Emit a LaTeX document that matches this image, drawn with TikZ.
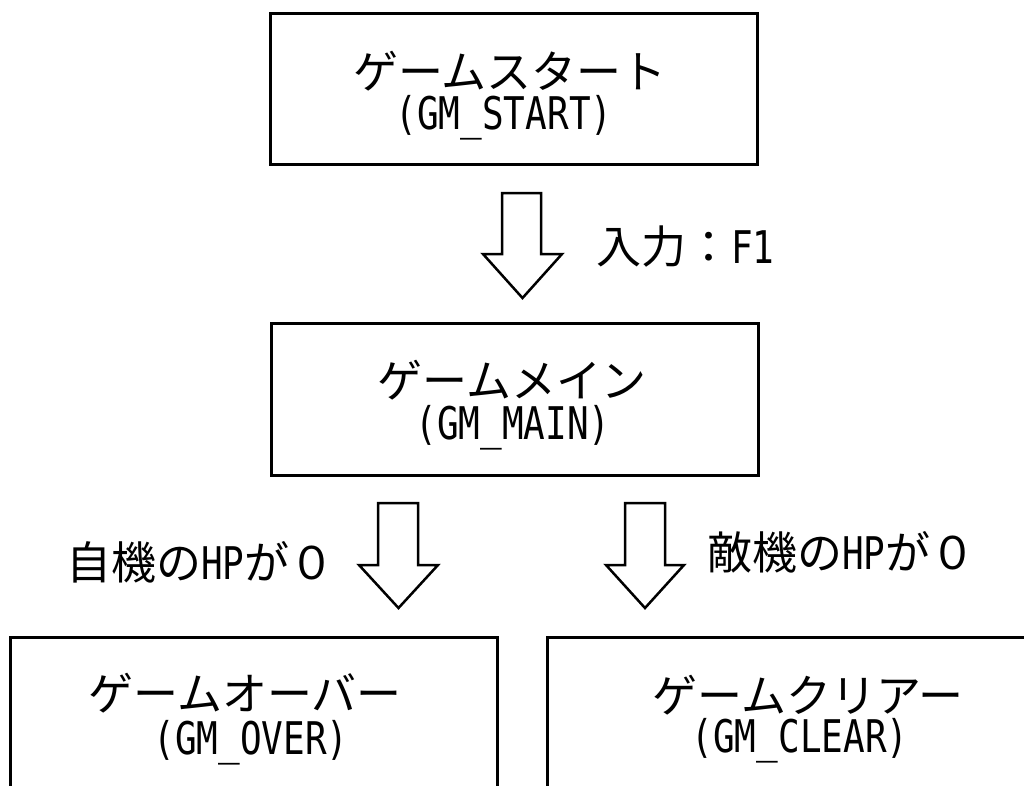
\documentclass[tikz,border=0pt]{standalone}
\usepackage{fontspec}
\newfontfamily\jp{Noto Sans CJK JP}
\newfontfamily\hw[FakeStretch=0.8]{DejaVu Sans Mono}
\newcommand{\us}{\char"5F\relax}
\begin{document}
\begin{tikzpicture}[x=1pt,y=-1pt,
  statebox/.style={draw, line width=3pt, inner sep=0pt},
  blockarrow/.style={draw, line width=2.5pt, fill=white, line join=miter},
  jptext/.style={font=\jp\fontsize{45}{54}\selectfont, inner sep=0pt},
  hwtext/.style={font=\hw\fontsize{45}{54}\selectfont, inner sep=0pt}]
\useasboundingbox (0,0) rectangle (1024,785);
\clip (0,0) rectangle (1024,785);
% boxes
\node[statebox, minimum width=487pt, minimum height=151pt] (start) at (513.5,88.5) {};
\node[statebox, minimum width=487pt, minimum height=152pt] (main) at (514.5,399) {};
\node[statebox, minimum width=487pt, minimum height=151pt] (over) at (253.5,712.5) {};
\node[statebox, minimum width=523pt, minimum height=151pt] (clear) at (808.5,712.5) {};
% box texts
\node[jptext] (startj) at (510,71) {ゲームスタート};
\node[hwtext] (starte) at (504,118) {(GM\us START)};
\node[jptext] (mainj) at (512,380) {ゲームメイン};
\node[hwtext] (maine) at (513,428) {(GM\us MAIN)};
\node[jptext] (overj) at (245,693) {ゲームオーバー};
\node[hwtext] (overe) at (251,743) {(GM\us OVER)};
\node[jptext] (clearj) at (808,695) {ゲームクリアー};
\node[hwtext] (cleare) at (800,741) {(GM\us CLEAR)};
% block arrows
\draw[blockarrow] (502,193) -- (541,193) -- (541,254) -- (562,254) -- (522.5,298) -- (483,254) -- (502,254) -- cycle;
\draw[blockarrow] (378,503) -- (418,503) -- (418,565) -- (438,565) -- (398.5,608) -- (359,565) -- (378,565) -- cycle;
\draw[blockarrow] (625,503) -- (665,503) -- (665,565) -- (684,565) -- (645,608) -- (606,565) -- (625,565) -- cycle;
% labels
\node[jptext, anchor=west] (lab1) at (596,247) {入力：{\hw F1}};
\node[jptext, anchor=west] (lab2) at (66,562) {自機の{\hw HP}が０};
\node[jptext, anchor=west] (lab3) at (707,552) {敵機の{\hw HP}が０};
\end{tikzpicture}
\end{document}
